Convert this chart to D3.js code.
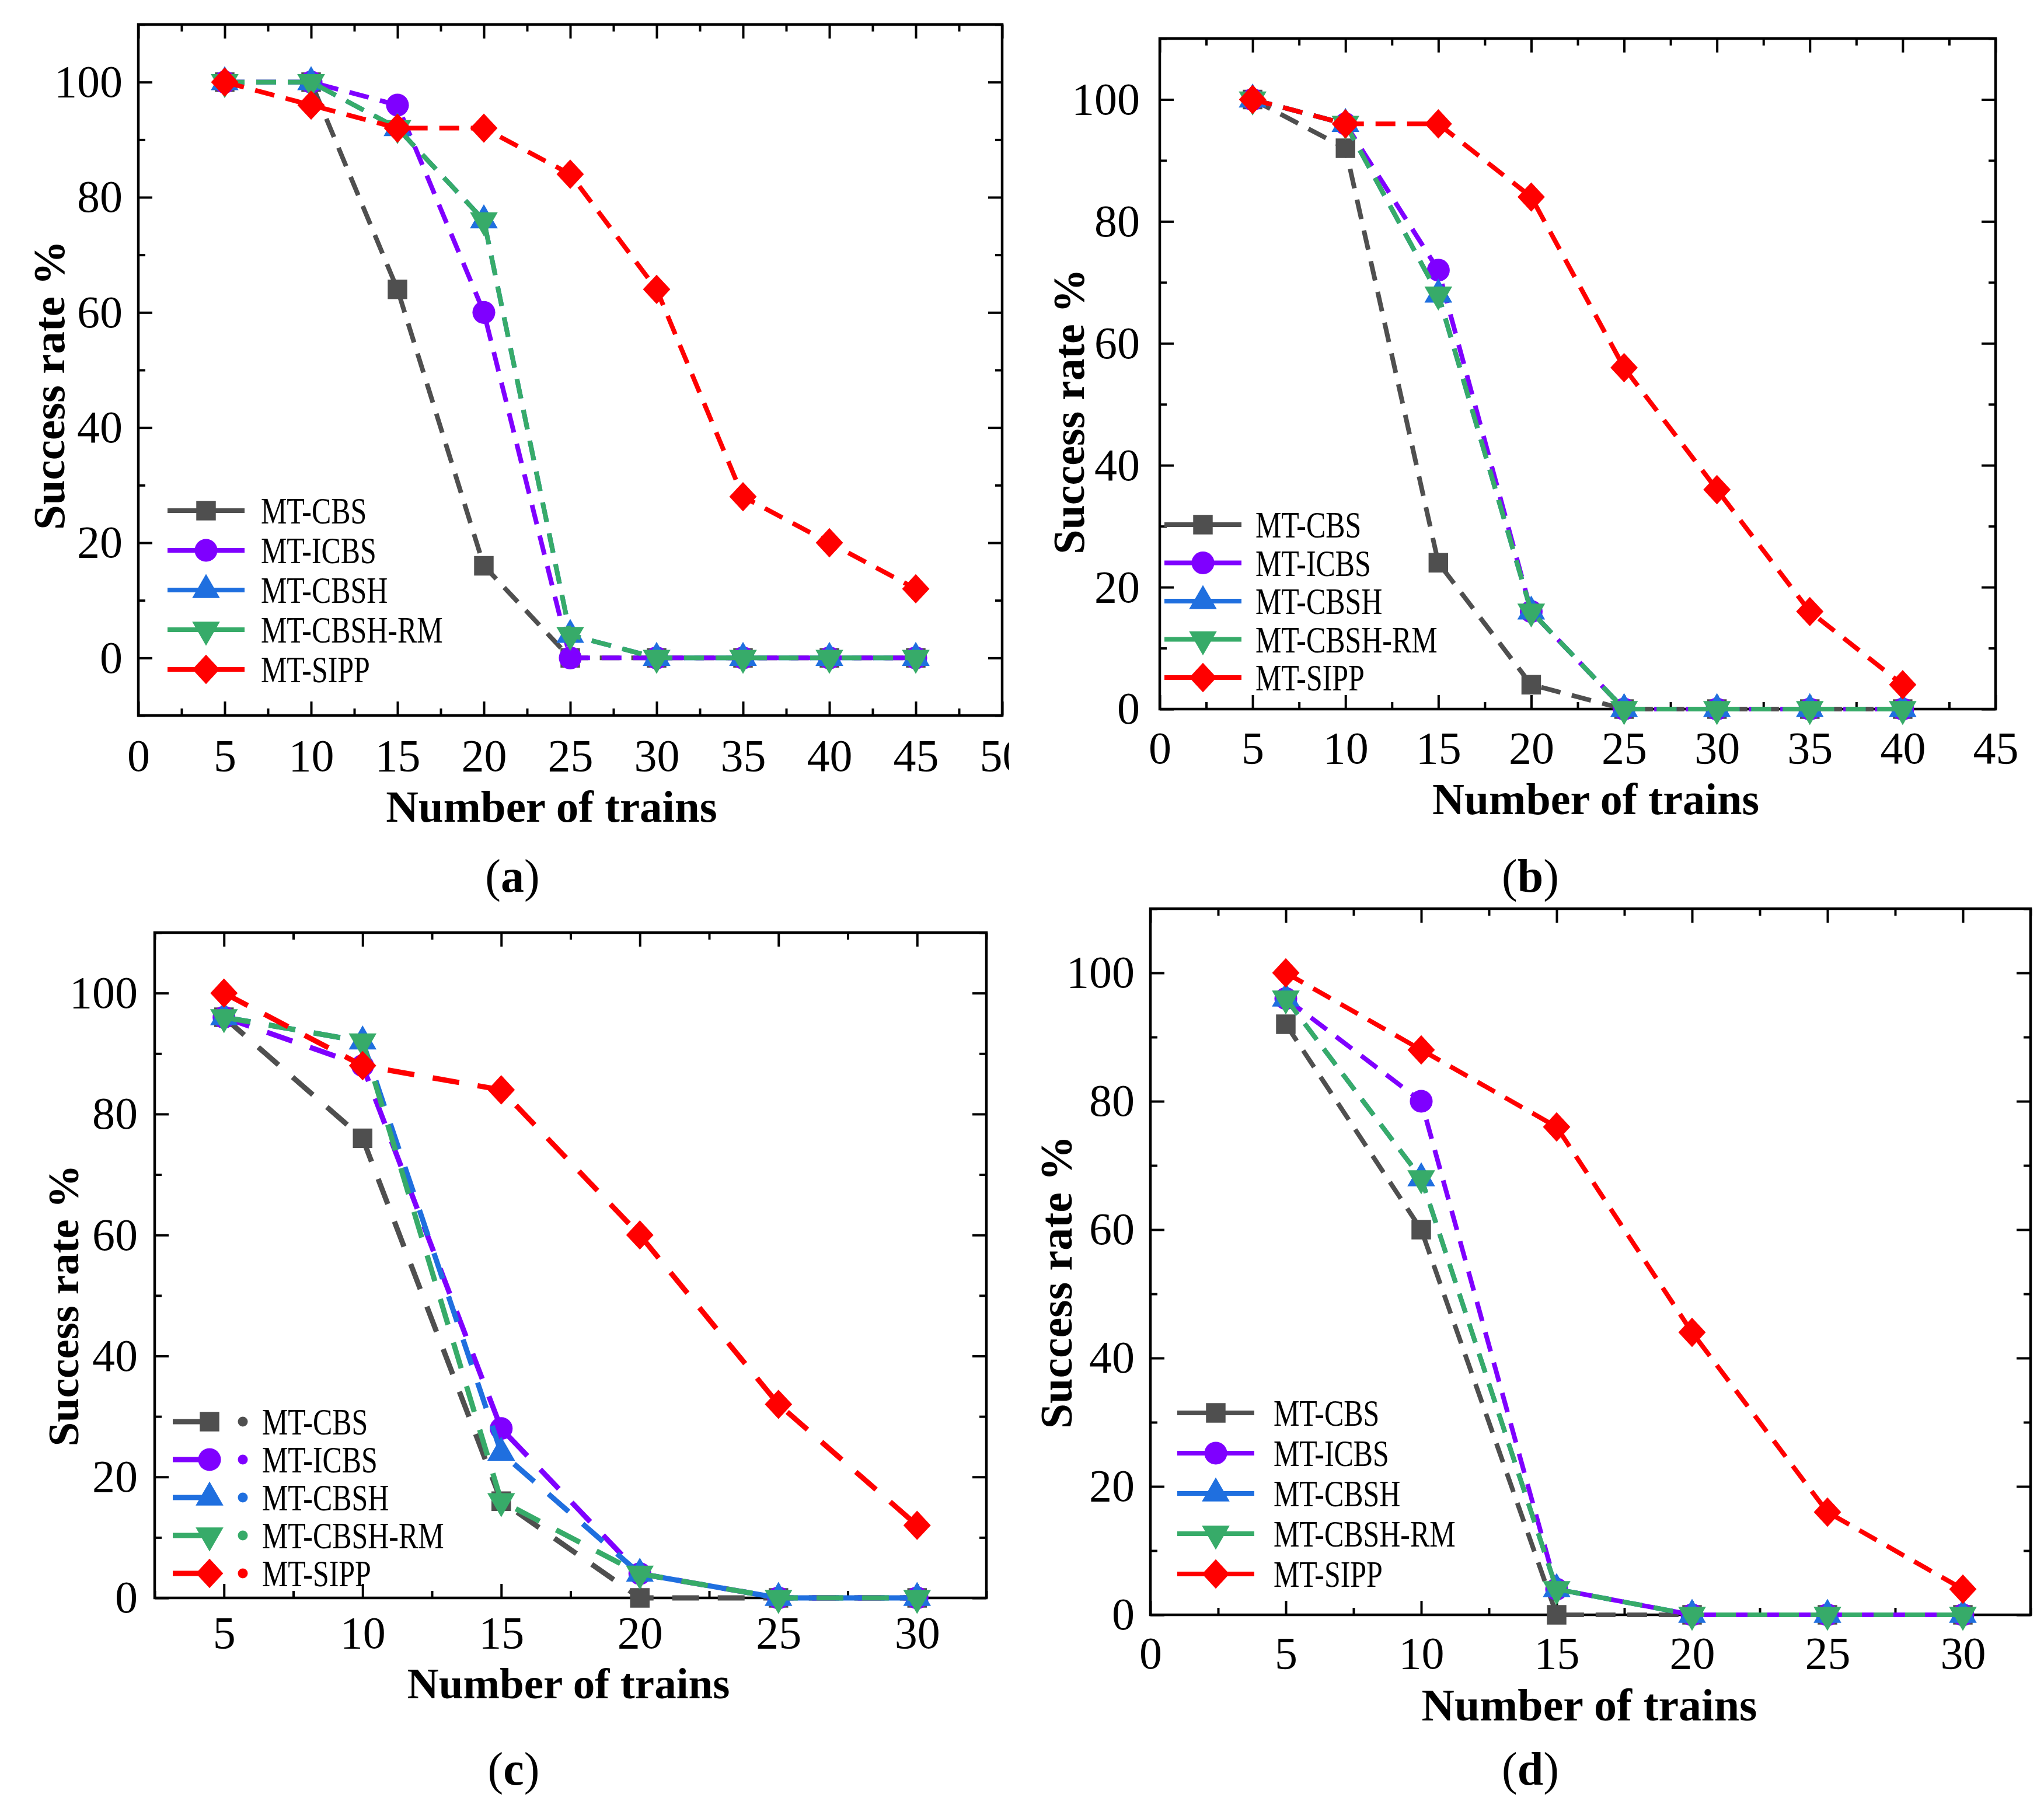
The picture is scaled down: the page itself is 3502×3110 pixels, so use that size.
<!DOCTYPE html>
<html>
<head>
<meta charset="utf-8">
<script src="https://cdn.jsdelivr.net/npm/d3@7"></script>
<style>
  body { margin: 0; background: #fff; }
  text { font-family: "Liberation Serif", "Times New Roman", serif; fill: #000; }
</style>
</head>
<body>
<svg id="fig" width="3502" height="3110"></svg>
<script>
// series names and colours (same in every panel)
const seriesNames = ["MT-CBS", "MT-ICBS", "MT-CBSH", "MT-CBSH-RM", "MT-SIPP"];
const seriesColors = ["#4f4f4f", "#7f00ff", "#1f6fdf", "#37ab69", "#ff0000"];

// (a)
const xA = [5, 10, 15, 20, 25, 30, 35, 40, 45];
const cbsA = [100, 100, 64, 16, 0, 0, 0, 0, 0];
const icbsA = [100, 100, 96, 60, 0, 0, 0, 0, 0];
const cbshA = [100, 100, 92, 76, 4, 0, 0, 0, 0];
const rmA = [100, 100, 92, 76, 4, 0, 0, 0, 0];
const sippA = [100, 96, 92, 92, 84, 64, 28, 20, 12];

// (b)
const xB = [5, 10, 15, 20, 25, 30, 35, 40];
const cbsB = [100, 92, 24, 4, 0, 0, 0, 0];
const icbsB = [100, 96, 72, 16, 0, 0, 0, 0];
const cbshB = [100, 96, 68, 16, 0, 0, 0, 0];
const rmB = [100, 96, 68, 16, 0, 0, 0, 0];
const sippB = [100, 96, 96, 84, 56, 36, 16, 4];

// (c)
const xC = [5, 10, 15, 20, 25, 30];
const cbsC = [96, 76, 16, 0, 0, 0];
const icbsC = [96, 88, 28, 4, 0, 0];
const cbshC = [96, 92, 24, 4, 0, 0];
const rmC = [96, 92, 16, 4, 0, 0];
const sippC = [100, 88, 84, 60, 32, 12];

// (d)
const xD = [5, 10, 15, 20, 25, 30];
const cbsD = [92, 60, 0, 0, 0, 0];
const icbsD = [96, 80, 4, 0, 0, 0];
const cbshD = [96, 68, 4, 0, 0, 0];
const rmD = [96, 68, 4, 0, 0, 0];
const sippD = [100, 88, 76, 44, 16, 4];

// tick labels
const xTicksA = [0, 5, 10, 15, 20, 25, 30, 35, 40, 45, 50];
const xTicksB = [0, 5, 10, 15, 20, 25, 30, 35, 40, 45];
const xTicksC = [5, 10, 15, 20, 25, 30];
const xTicksD = [0, 5, 10, 15, 20, 25, 30];
const yTicks = [0, 20, 40, 60, 80, 100];

const svg = d3.select("svg#fig");
svg.append("rect").attr("width", 3502).attr("height", 3110).attr("fill", "#fff");

// custom marker shapes
const diamondSym = {
  draw(ctx, size) {
    const h = Math.sqrt(size / 1.86), w = h * 0.93;
    ctx.moveTo(0, -h); ctx.lineTo(w, 0); ctx.lineTo(0, h); ctx.lineTo(-w, 0); ctx.closePath();
  }
};
const triDownSym = {
  draw(ctx, size) {
    const s = Math.sqrt(4 * size / Math.sqrt(3)), h = s * Math.sqrt(3) / 2;
    ctx.moveTo(0, 2 * h / 3); ctx.lineTo(s / 2, -h / 3); ctx.lineTo(-s / 2, -h / 3); ctx.closePath();
  }
};
const markerTypes = [d3.symbolSquare, d3.symbolCircle, d3.symbolTriangle, triDownSym, diamondSym];
const markerSizes = [1120, 1200, 980, 980, 1180];

function drawPanel(cfg, xs, ys) {
  let g = svg.append("g");
  if (cfg.clipRight) {
    svg.append("clipPath").attr("id", "clip" + cfg.label)
      .append("rect").attr("x", 0).attr("y", 0).attr("width", cfg.clipRight).attr("height", 3110);
    g.attr("clip-path", "url(#clip" + cfg.label + ")");
  }

  const x = d3.scaleLinear().domain(cfg.xDomain).range([cfg.left, cfg.right]);
  const y = d3.scaleLinear().domain(cfg.yDomain).range([cfg.bottom, cfg.top]);

  const xMinor = d3.range(cfg.xDomain[0], cfg.xDomain[1] + 0.01, 2.5).filter(v => v % 5 !== 0);
  const yMinor = d3.range(cfg.yDomain[0], cfg.yDomain[1] + 0.01, 10).filter(v => v % 20 !== 0);
  const yMajor = d3.range(cfg.yDomain[0], cfg.yDomain[1] + 0.01, 10).filter(v => v % 20 === 0);

  function styleAxis(sel) {
    sel.select(".domain").remove();
    sel.selectAll(".tick line").attr("stroke", "#000").attr("stroke-width", 4);
    sel.selectAll(".tick text").style("font-size", "78px").attr("fill", "#000");
  }

  // bottom
  g.append("g").attr("transform", `translate(0,${cfg.bottom})`)
    .call(d3.axisBottom(x).tickValues(cfg.xTicks).tickSize(-24).tickPadding(cfg.xPad).tickFormat(d3.format("d")))
    .call(styleAxis);
  g.append("g").attr("transform", `translate(0,${cfg.bottom})`)
    .call(d3.axisBottom(x).tickValues(xMinor).tickSize(-12).tickFormat(""))
    .call(styleAxis);
  // top
  g.append("g").attr("transform", `translate(0,${cfg.top})`)
    .call(d3.axisTop(x).tickValues(cfg.xTicks.filter(v => v >= cfg.xDomain[0] && v <= cfg.xDomain[1])).tickSize(-24).tickFormat(""))
    .call(styleAxis);
  g.append("g").attr("transform", `translate(0,${cfg.top})`)
    .call(d3.axisTop(x).tickValues(xMinor).tickSize(-12).tickFormat(""))
    .call(styleAxis);
  // left
  g.append("g").attr("transform", `translate(${cfg.left},0)`)
    .call(d3.axisLeft(y).tickValues(yTicks).tickSize(-24).tickPadding(cfg.yPad).tickFormat(d3.format("d")))
    .call(styleAxis);
  g.append("g").attr("transform", `translate(${cfg.left},0)`)
    .call(d3.axisLeft(y).tickValues(yMinor).tickSize(-12).tickFormat(""))
    .call(styleAxis);
  // right
  g.append("g").attr("transform", `translate(${cfg.right},0)`)
    .call(d3.axisRight(y).tickValues(yMajor).tickSize(-24).tickFormat(""))
    .call(styleAxis);
  g.append("g").attr("transform", `translate(${cfg.right},0)`)
    .call(d3.axisRight(y).tickValues(yMinor).tickSize(-12).tickFormat(""))
    .call(styleAxis);

  g.selectAll(".tick text").style("font-family", '"Liberation Serif", "Times New Roman", serif');

  // frame
  g.append("rect")
    .attr("x", cfg.left).attr("y", cfg.top)
    .attr("width", cfg.right - cfg.left).attr("height", cfg.bottom - cfg.top)
    .attr("fill", "none").attr("stroke", "#000").attr("stroke-width", 4.5);

  // series: straight dashed segments between points
  const line = d3.line()
    .x(d => x(d[0]))
    .y(d => y(d[1]));

  ys.forEach((vals, i) => {
    const pts = xs.map((v, j) => [v, vals[j]]);
    g.append("path")
      .datum(pts)
      .attr("d", line)
      .attr("fill", "none")
      .attr("stroke", seriesColors[i])
      .attr("stroke-width", cfg.lineWidth)
      .attr("stroke-dasharray", cfg.dash);
    g.selectAll(null).data(pts).join("path")
      .attr("transform", d => `translate(${x(d[0])},${y(d[1])})`)
      .attr("d", d3.symbol().type(markerTypes[i]).size(markerSizes[i]))
      .attr("fill", seriesColors[i]);
  });

  // legend
  seriesNames.forEach((name, i) => {
    const ly = cfg.legY + i * cfg.legStep;
    const mx = cfg.legX;
    if (cfg.dotLegend) {
      g.append("line").attr("x1", mx - 63).attr("x2", mx).attr("y1", ly).attr("y2", ly)
        .attr("stroke", seriesColors[i]).attr("stroke-width", 9);
      g.append("circle").attr("cx", mx + 57).attr("cy", ly).attr("r", 8.5).attr("fill", seriesColors[i]);
    } else {
      [[mx - 66, mx - 10], [mx + 10, mx + 66]].forEach(s => {
        g.append("line").attr("x1", s[0]).attr("x2", s[1]).attr("y1", ly).attr("y2", ly)
          .attr("stroke", seriesColors[i]).attr("stroke-width", 8);
      });
    }
    g.append("path")
      .attr("transform", `translate(${mx},${ly})`)
      .attr("d", d3.symbol().type(markerTypes[i]).size(markerSizes[i]))
      .attr("fill", seriesColors[i]);
    g.append("text")
      .attr("transform", `translate(${cfg.legTextX},${ly + 22}) scale(0.78,1)`)
      .style("font-size", "64px")
      .text(name);
  });

  // axis titles
  g.append("text")
    .attr("x", cfg.xTitle[0]).attr("y", cfg.xTitle[1])
    .attr("text-anchor", "middle")
    .style("font-size", cfg.titleSize + "px").style("font-weight", "bold")
    .text("Number of trains");
  g.append("text")
    .attr("transform", `translate(${cfg.yTitle[0]},${cfg.yTitle[1]}) rotate(-90)`)
    .attr("text-anchor", "middle").attr("dy", "0.35em")
    .style("font-size", cfg.titleSize + "px").style("font-weight", "bold")
    .text("Success rate %");

  // panel label
  const pl = g.append("text")
    .attr("x", cfg.panelLabel[0]).attr("y", cfg.panelLabel[1])
    .attr("text-anchor", "middle")
    .style("font-size", "80px");
  pl.append("tspan").text("(");
  pl.append("tspan").style("font-weight", "bold").text(cfg.label);
  pl.append("tspan").text(")");
}

drawPanel({
  label: "a", left: 237, right: 1717, top: 42, bottom: 1226,
  xDomain: [0, 50], yDomain: [-10, 110], xTicks: xTicksA, xPad: 40, yPad: 27,
  lineWidth: 8, dash: "34,20", clipRight: 1729, titleSize: 77,
  legX: 353, legY: 875, legStep: 68, legTextX: 447, dotLegend: false,
  xTitle: [945, 1408], yTitle: [83, 660], panelLabel: [878, 1528]
}, xA, [cbsA, icbsA, cbshA, rmA, sippA]);

drawPanel({
  label: "b", left: 1987, right: 3419, top: 66, bottom: 1215,
  xDomain: [0, 45], yDomain: [0, 110], xTicks: xTicksB, xPad: 38, yPad: 34,
  lineWidth: 8, dash: "34,20", titleSize: 76,
  legX: 2061, legY: 899, legStep: 65.5, legTextX: 2151, dotLegend: false,
  xTitle: [2734, 1395], yTitle: [1830, 705], panelLabel: [2622, 1528]
}, xB, [cbsB, icbsB, cbshB, rmB, sippB]);

drawPanel({
  label: "c", left: 265, right: 1690, top: 1598, bottom: 2738,
  xDomain: [2.5, 32.5], yDomain: [0, 110], xTicks: xTicksC, xPad: 31, yPad: 29,
  lineWidth: 9, dash: "46,32", titleSize: 75,
  legX: 359, legY: 2436, legStep: 65, legTextX: 449, dotLegend: true,
  xTitle: [974, 2910], yTitle: [108, 2237], panelLabel: [880, 3058]
}, xC, [cbsC, icbsC, cbshC, rmC, sippC]);

drawPanel({
  label: "d", left: 1971, right: 3479, top: 1557, bottom: 2767,
  xDomain: [0, 32.5], yDomain: [0, 110], xTicks: xTicksD, xPad: 37, yPad: 27,
  lineWidth: 8, dash: "34,20", titleSize: 78,
  legX: 2083, legY: 2421, legStep: 69, legTextX: 2182, dotLegend: false,
  xTitle: [2723, 2948], yTitle: [1809, 2197], panelLabel: [2622, 3058]
}, xD, [cbsD, icbsD, cbshD, rmD, sippD]);
</script>
</body>
</html>
